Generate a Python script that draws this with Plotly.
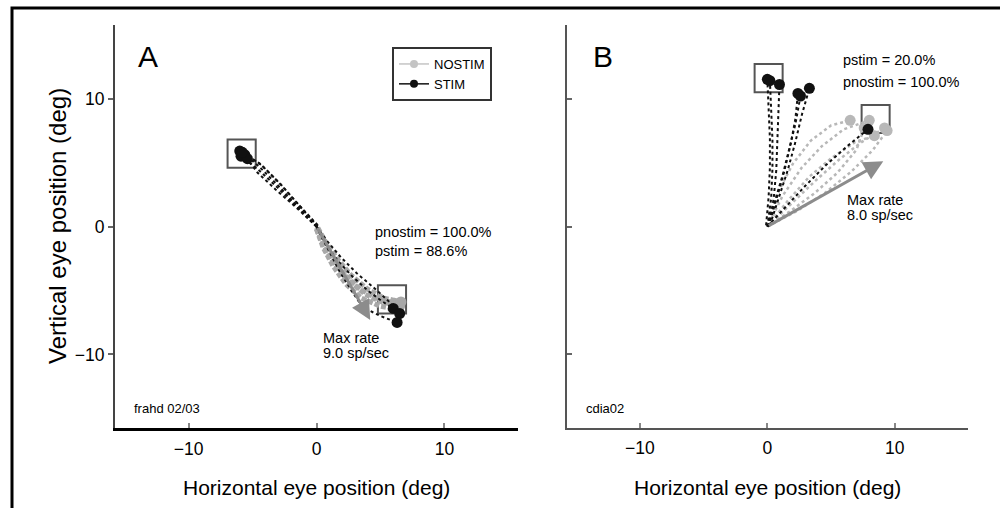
import plotly.graph_objects as go

# ---------------- data (deg) ----------------
# Panel A: frahd 02/03
a_nostim_x = [[0.0, 0.5, 1.2, 2.2, 3.4, 4.7, 6.1],
              [0.0, 0.6, 1.4, 2.5, 3.8, 5.1, 6.5],
              [0.0, 0.5, 1.3, 2.3, 3.5, 4.9, 6.3],
              [0.1, 0.7, 1.6, 2.7, 4.0, 5.3, 6.6]]
a_nostim_y = [[-0.2, -1.4, -2.6, -3.8, -4.9, -5.6, -6.0],
              [-0.1, -1.5, -2.9, -4.2, -5.3, -5.9, -6.2],
              [-0.2, -1.6, -3.1, -4.5, -5.6, -6.2, -6.5],
              [-0.1, -1.2, -2.5, -3.8, -4.9, -5.6, -5.9]]
a_stim_x = [[0.0, -1.5, -3.0, -4.5, -5.6],
            [0.0, -1.5, -3.0, -4.5, -5.9],
            [0.1, -1.4, -2.9, -4.4, -6.0],
            [0.0, -1.6, -3.2, -4.6, -5.4],
            [0.1, -1.3, -2.8, -4.3, -5.8],
            [0.0, 0.6, 1.6, 2.8, 4.0, 5.2, 6.0],
            [0.0, 0.8, 1.9, 3.2, 4.5, 5.6, 6.5],
            [0.0, 0.9, 1.8, 2.8, 3.6, 5.0, 6.3]]
a_stim_y = [[0.0, 1.6, 3.2, 4.7, 5.6],
            [0.0, 1.5, 3.0, 4.4, 5.5],
            [0.1, 1.7, 3.4, 4.9, 5.9],
            [0.0, 1.5, 2.9, 4.2, 5.3],
            [0.0, 1.6, 3.3, 4.8, 5.8],
            [0.0, -1.2, -2.6, -3.9, -5.0, -5.9, -6.4],
            [0.0, -1.1, -2.4, -3.7, -4.8, -5.8, -6.8],
            [0.0, -1.7, -3.5, -5.1, -6.3, -7.0, -7.5]]
a_targets_x = [-5.85, 5.9]
a_targets_y = [5.7, -5.7]
a_maxrate_vec = [4.2, -7.3]
a_texts = ["pnostim = 100.0%", "pstim = 88.6%", "Max rate", "9.0 sp/sec", "frahd 02/03", "A"]

# Panel B: cdia02
b_nostim_x = [[0.0, 0.8, 2.0, 3.4, 5.0, 6.5],
              [0.0, 1.2, 2.7, 4.3, 6.0, 8.0],
              [0.0, 1.6, 3.3, 5.1, 6.9, 8.4],
              [0.0, 1.9, 3.8, 5.6, 7.4, 9.2],
              [0.0, 2.3, 4.5, 6.6, 8.3, 9.4],
              [0.0, 1.8, 3.7, 5.5, 7.0, 7.6]]
b_nostim_y = [[0.0, 2.6, 4.9, 6.7, 7.9, 8.3],
              [0.0, 2.4, 4.6, 6.3, 7.6, 8.3],
              [0.0, 2.0, 3.9, 5.4, 6.6, 7.1],
              [0.0, 1.8, 3.6, 5.2, 6.6, 7.7],
              [0.0, 1.2, 2.6, 4.3, 6.0, 7.5],
              [0.0, 1.2, 2.6, 4.2, 6.0, 7.7]]
b_stim_x = [[0.0, 0.3, 0.4, 0.4, 0.3, 0.2],
            [0.1, 0.5, 0.7, 0.8, 0.9, 0.95],
            [-0.1, 0.1, 0.2, 0.2, 0.1, 0.0],
            [0.1, 0.7, 1.3, 1.8, 2.2, 2.4],
            [0.2, 0.9, 1.6, 2.2, 2.7, 3.3],
            [0.0, 0.6, 1.2, 1.7, 2.2, 2.6],
            [0.0, 1.5, 3.0, 4.6, 6.3, 7.9]]
b_stim_y = [[0.0, 2.2, 4.5, 6.8, 9.1, 11.4],
            [0.0, 2.2, 4.4, 6.7, 8.9, 11.1],
            [0.1, 2.3, 4.6, 6.9, 9.2, 11.5],
            [0.0, 2.1, 4.2, 6.3, 8.4, 10.4],
            [0.1, 2.2, 4.4, 6.6, 8.7, 10.8],
            [0.0, 2.0, 4.0, 6.0, 8.0, 10.2],
            [0.0, 1.6, 3.2, 4.8, 6.3, 7.6]]
b_targets_x = [0.1, 8.5]
b_targets_y = [11.6, 8.4]
b_maxrate_vec = [9.1, 5.1]
b_texts = ["pstim = 20.0%", "pnostim = 100.0%", "Max rate", "8.0 sp/sec", "cdia02", "B"]

tick_vals = [-10, 0, 10]
tick_text = ["\u221210", "0", "10"]
axis_range = [-15.75, 15.75]
target_size = 2.2

# ---------------- styling ----------------
FONT = "Liberation Sans, Arial, Helvetica, sans-serif"
GRAY_A = "#a8a8a8"
GRAY_B = "#b8b8b8"
BLACK = "#111111"
W, H = 1000, 508


def joined(paths):
    out = []
    for p in paths:
        out.extend(p)
        out.append(None)
    return out


def ends(paths):
    return [p[-1] for p in paths]


fig = go.Figure()


def add_panel(xa, ya, nx, ny, sx, sy, gray, gray_w, gray_dash):
    fig.add_trace(go.Scatter(x=joined(nx), y=joined(ny), mode="lines",
                             line=dict(color=gray, width=gray_w, dash=gray_dash),
                             xaxis=xa, yaxis=ya, showlegend=False, hoverinfo="skip"))
    fig.add_trace(go.Scatter(x=ends(nx), y=ends(ny), mode="markers",
                             marker=dict(color=gray, size=11),
                             xaxis=xa, yaxis=ya, showlegend=False, hoverinfo="skip"))
    fig.add_trace(go.Scatter(x=joined(sx), y=joined(sy), mode="lines",
                             line=dict(color=BLACK, width=2, dash="3px,3px"),
                             xaxis=xa, yaxis=ya, showlegend=False, hoverinfo="skip"))
    fig.add_trace(go.Scatter(x=ends(sx), y=ends(sy), mode="markers",
                             marker=dict(color=BLACK, size=11),
                             xaxis=xa, yaxis=ya, showlegend=False, hoverinfo="skip"))


add_panel("x", "y", a_nostim_x, a_nostim_y, a_stim_x, a_stim_y, GRAY_A, 5, "5px,2px")
add_panel("x2", "y2", b_nostim_x, b_nostim_y, b_stim_x, b_stim_y, GRAY_B, 2.5, "3px,3px")

# legend entries
fig.add_trace(go.Scatter(x=[None], y=[None], mode="lines+markers", name="NOSTIM",
                         line=dict(color="#c4c4c4", width=1.5),
                         marker=dict(color="#c4c4c4", size=8), xaxis="x", yaxis="y"))
fig.add_trace(go.Scatter(x=[None], y=[None], mode="lines+markers", name="STIM",
                         line=dict(color=BLACK, width=1.5),
                         marker=dict(color=BLACK, size=8), xaxis="x", yaxis="y"))

shapes = []
for xr, yr, tx, ty in (("x", "y", a_targets_x, a_targets_y), ("x2", "y2", b_targets_x, b_targets_y)):
    for cx, cy in zip(tx, ty):
        shapes.append(dict(type="rect", xref=xr, yref=yr,
                           x0=cx - target_size / 2, x1=cx + target_size / 2,
                           y0=cy - target_size / 2, y1=cy + target_size / 2,
                           line=dict(color="#555555", width=2), layer="below"))
# outer frame
shapes.append(dict(type="rect", xref="paper", yref="paper", x0=0.012, x1=1.05,
                   y0=-0.1, y1=1 - 8 / H, line=dict(color="black", width=3)))

ann = []
# max-rate arrows
for xr, yr, vec in (("x", "y", a_maxrate_vec), ("x2", "y2", b_maxrate_vec)):
    ann.append(dict(xref=xr, yref=yr, axref=xr, ayref=yr, x=vec[0], y=vec[1], ax=0, ay=0,
                    text="", showarrow=True, arrowhead=2, arrowsize=1.3, arrowwidth=3,
                    arrowcolor="#8c8c8c"))


def txt(xr, yr, x, y, s, size=14.5):
    ann.append(dict(xref=xr, yref=yr, x=x, y=y, text=s, showarrow=False,
                    xanchor="left", yanchor="middle",
                    font=dict(family=FONT, size=size, color="black")))


txt("x", "y", 4.4, -0.41, a_texts[0])
txt("x", "y", 4.4, -1.94, a_texts[1])
txt("x", "y", 0.35, -8.7, a_texts[2])
txt("x", "y", 0.35, -9.9, a_texts[3])
txt("x", "y", -14.4, -14.2, a_texts[4], 13)
txt("x", "y", -14.1, 13.3, a_texts[5], 30)

txt("x2", "y2", 5.8, 13.0, b_texts[0])
txt("x2", "y2", 5.8, 11.3, b_texts[1])
txt("x2", "y2", 6.1, 2.1, b_texts[2])
txt("x2", "y2", 6.1, 0.9, b_texts[3])
txt("x2", "y2", -14.4, -14.2, b_texts[4], 13)
txt("x2", "y2", -13.85, 13.3, b_texts[5], 30)

# axis titles
for cx in (0.3165, 0.7675):
    ann.append(dict(xref="paper", yref="paper", x=cx, y=1 - 487 / H,
                    text="Horizontal eye position (deg)", showarrow=False,
                    xanchor="center", yanchor="middle",
                    font=dict(family=FONT, size=21, color="black")))
ann.append(dict(xref="paper", yref="paper", x=57 / W, y=1 - 226 / H,
                text="Vertical eye position (deg)", showarrow=False, textangle=-90,
                xanchor="center", yanchor="middle",
                font=dict(family=FONT, size=24, color="black")))

ydom = [1 - 428 / H, 1 - 25 / H]


def xaxis(dom, line_color, line_w, anchor):
    return dict(domain=dom, range=axis_range, anchor=anchor, showgrid=False, zeroline=False,
                showline=True, linecolor=line_color, linewidth=line_w,
                tickmode="array", tickvals=tick_vals, ticktext=tick_text,
                ticks="inside", ticklen=5, tickcolor="#888888", tickwidth=1.5,
                tickfont=dict(family=FONT, size=17.5, color="black"),
                ticklabelstandoff=3, automargin=False, fixedrange=True)


def yaxis(anchor, line_color, ticks, show_labels):
    return dict(domain=ydom, range=axis_range, anchor=anchor, showgrid=False, zeroline=False,
                showline=True, linecolor=line_color, linewidth=2,
                tickmode="array", tickvals=tick_vals, ticktext=tick_text,
                ticks=ticks, ticklen=5, tickcolor="#666666", tickwidth=1.5,
                showticklabels=show_labels,
                tickfont=dict(family=FONT, size=17.5, color="black"),
                automargin=False, fixedrange=True)


fig.update_layout(
    width=W, height=H,
    margin=dict(l=0, r=0, t=0, b=0),
    paper_bgcolor="white", plot_bgcolor="white",
    font=dict(family=FONT, color="black"),
    xaxis=xaxis([115 / W, 518 / W], "black", 3, "y"),
    yaxis=yaxis("x", "#444444", "outside", True),
    xaxis2=xaxis([566.7 / W, 968 / W], "#555555", 2, "y2"),
    yaxis2=yaxis("x2", "#555555", "inside", False),
    shapes=shapes,
    annotations=ann,
    showlegend=True,
    legend=dict(x=392 / W, y=1 - 47 / H, xanchor="left", yanchor="top",
                bordercolor="#333333", borderwidth=2, bgcolor="white",
                font=dict(family=FONT, size=13, color="black"),
                itemwidth=30, tracegroupgap=0),
)

fig.write_html("out.html")
